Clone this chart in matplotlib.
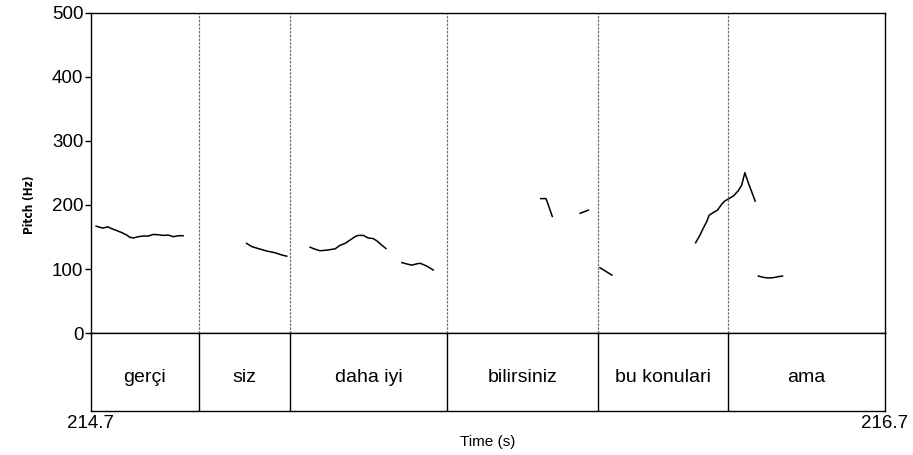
import matplotlib.pyplot as plt
from matplotlib import font_manager

plt.rcParams['font.family'] = ['Liberation Sans', 'DejaVu Sans']

# pitch contour pieces (time in s, pitch in Hz)
seg_times = [
    [214.713, 214.723, 214.731, 214.742, 214.752, 214.765, 214.777, 214.790, 214.798, 214.807,
     214.819, 214.832, 214.844, 214.857, 214.870, 214.882, 214.895, 214.907, 214.920, 214.932],
    [215.092, 215.105, 215.121, 215.143, 215.163, 215.180, 215.193],
    [215.252, 215.264, 215.277, 215.294, 215.315, 215.327, 215.340, 215.352, 215.365, 215.373,
     215.386, 215.398, 215.411, 215.420, 215.432, 215.443],
    [215.483, 215.495, 215.508, 215.520, 215.529, 215.546, 215.562],
    [215.833, 215.846, 215.852, 215.862],
    [215.932, 215.953],
    [215.982, 216.012],
    [216.223, 216.234, 216.242, 216.251, 216.257, 216.267, 216.278, 216.289, 216.297, 216.307,
     216.318, 216.330, 216.339, 216.347, 216.356, 216.364, 216.373],
    [216.381, 216.393, 216.406, 216.419, 216.431, 216.442],
]
seg_pitch = [
    [167, 165, 164, 166, 163, 160, 157, 153, 149.5, 148.5,
     150.5, 151.5, 151.5, 154, 153.5, 152.5, 153, 150.5, 152, 152],
    [140, 135, 132, 128, 125.5, 122, 120],
    [134, 131, 128.5, 129.5, 131.5, 137, 140, 145, 150.5, 152.5,
     152.5, 148.5, 147.5, 144, 137.5, 132],
    [110, 108, 106, 108, 109, 104.5, 98.5],
    [210, 210, 200, 182],
    [187, 192],
    [102, 90.5],
    [141, 153, 163.5, 174, 184, 188, 192, 201.5, 206.5, 210,
     214, 222, 231, 250.5, 234, 221, 206],
    [89, 87, 86, 86.5, 88, 89],
]

# word tier
t_start = 214.7
t_end = 216.7
boundaries = [214.972, 215.201, 215.597, 215.977, 216.305]
words = ['gerçi', 'siz', 'daha iyi', 'bilirsiniz', 'bu konulari', 'ama']
yticks = [0, 100, 200, 300, 400, 500]

# narrow font for the y label if available
try:
    font_manager.findfont(font_manager.FontProperties(family='Liberation Sans Narrow'),
                          fallback_to_default=False)
    ylab_font = dict(family='Liberation Sans Narrow', fontweight='bold', fontsize=10.5)
except ValueError:
    ylab_font = dict(family='DejaVu Sans', fontstretch='condensed', fontweight='bold', fontsize=8.5)

fig = plt.figure(figsize=(9.13, 4.55), dpi=100)
ax = fig.add_axes([91 / 913, 1 - 333 / 455, 794 / 913, 320 / 455])
tier = fig.add_axes([91 / 913, 1 - 411 / 455, 794 / 913, 78 / 455])

for ts, fs in zip(seg_times, seg_pitch):
    ax.plot(ts, fs, color='black', lw=1.1)

for b in boundaries:
    ax.axvline(b, color='#707070', lw=0.9, linestyle=(0, (2, 1)))
    tier.axvline(b, color='black', lw=1.0)

ax.set_xlim(t_start, t_end)
ax.set_ylim(0, 500)
ax.set_yticks(yticks)
ax.tick_params(axis='y', direction='out', length=4.5, width=1, pad=1, labelsize=13.5)
ax.set_xticks([])
for s in ax.spines.values():
    s.set_linewidth(1.0)

fig.text(30 / 913, 1 - 205 / 455, 'Pitch (Hz)', rotation=90, ha='center', va='center', **ylab_font)

edges = [t_start] + boundaries + [t_end]
for i, w in enumerate(words):
    tier.text((edges[i] + edges[i + 1]) / 2, 0.43, w, ha='center', va='center', fontsize=14)
tier.set_xlim(t_start, t_end)
tier.set_ylim(0, 1)
tier.set_yticks([])
tier.set_xticks([t_start, t_end])
tier.set_xticklabels(['214.7', '216.7'])
tier.tick_params(axis='x', length=0, pad=3, labelsize=13.5)
tier.set_xlabel('Time (s)', fontsize=11, labelpad=2)
for s in tier.spines.values():
    s.set_linewidth(1.0)

fig.savefig('out.png', dpi=100)
